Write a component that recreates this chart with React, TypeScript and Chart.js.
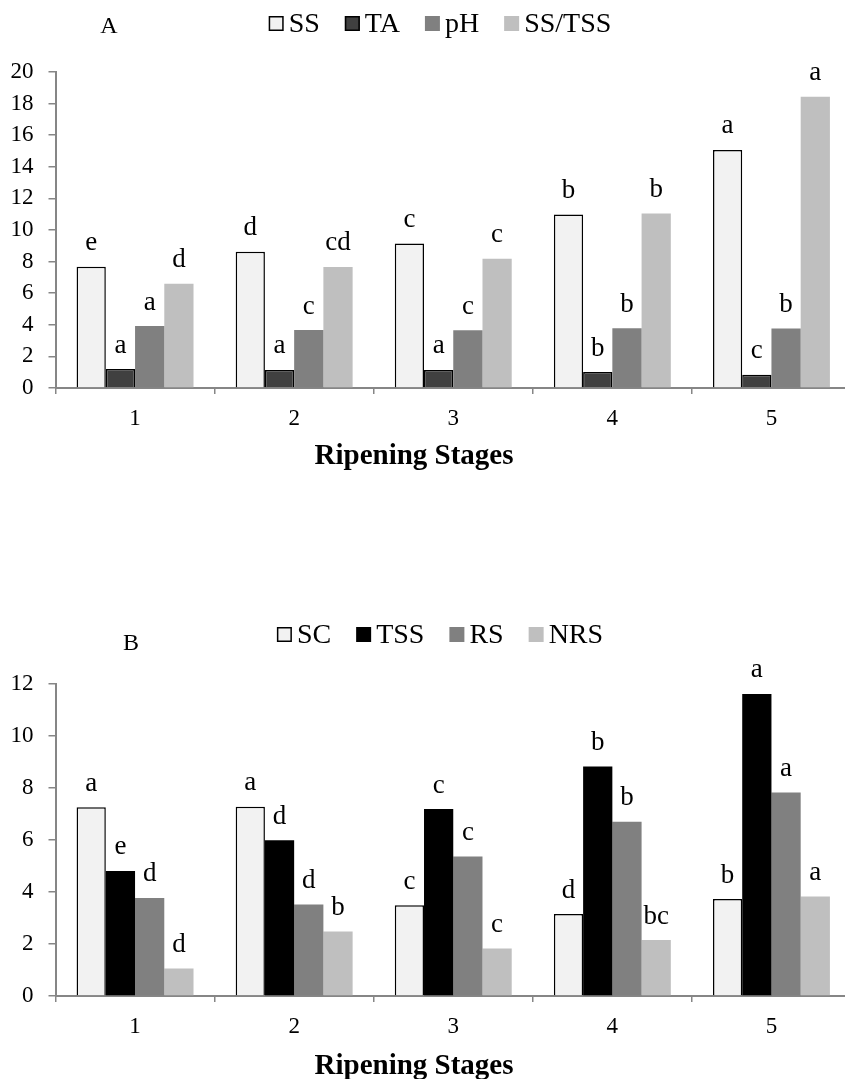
import React, { useEffect, useRef } from "react";
import { Chart, registerables } from "chart.js";

Chart.register(...registerables);

// ---------- DATA ----------
const stages = ["1", "2", "3", "4", "5"];

// Panel A
const seriesA = ["SS", "TA", "pH", "SS/TSS"];
const ssValues = [7.67, 8.62, 9.15, 10.98, 15.07];
const taValues = [1.2, 1.14, 1.14, 1.01, 0.84];
const phValues = [3.92, 3.67, 3.65, 3.78, 3.76];
const ssTssValues = [6.6, 7.66, 8.18, 11.05, 18.44];
const ssLetters = ["e", "d", "c", "b", "a"];
const taLetters = ["a", "a", "a", "b", "c"];
const phLetters = ["a", "c", "c", "b", "b"];
const ssTssLetters = ["d", "cd", "c", "b", "a"];
const yTicksA = { min: 0, max: 20, step: 2 };

// Panel B
const seriesB = ["SC", "TSS", "RS", "NRS"];
const scValues = [7.26, 7.28, 3.49, 3.15, 3.73];
const tssValues = [4.81, 5.99, 7.19, 8.83, 11.62];
const rsValues = [3.77, 3.52, 5.37, 6.7, 7.83];
const nrsValues = [1.06, 2.48, 1.83, 2.15, 3.83];
const scLetters = ["a", "a", "c", "d", "b"];
const tssLetters = ["e", "d", "c", "b", "a"];
const rsLetters = ["d", "d", "c", "b", "a"];
const nrsLetters = ["d", "b", "c", "bc", "a"];
const yTicksB = { min: 0, max: 12, step: 2 };

const xTitle = "Ripening Stages";

// ---------- STYLE ----------
const SERIF = "'Liberation Serif', 'Times New Roman', serif";
const AXIS = "#868686";
const fillsA = ["#f2f2f2", "#404040", "#808080", "#bfbfbf"];
const fillsB = ["#f2f2f2", "#000000", "#808080", "#bfbfbf"];
const bordersA = [1.5, 1.5, 0, 0];
const bordersB = [1.5, 0, 0, 0];

const CANVAS_W = 851;

type PanelCfg = {
  key: string;
  panel: string;
  panelX: number;
  panelY: number;
  legendY: number;
  titleY: number;
  letters: string[][];
};

function overlayPlugin(cfg: PanelCfg) {
  return {
    id: "overlay_" + cfg.key,
    afterDraw(chart: any) {
      const ctx = chart.ctx as CanvasRenderingContext2D;
      ctx.save();
      ctx.fillStyle = "#000";
      ctx.textAlign = "center";
      ctx.textBaseline = "alphabetic";
      // significance letters
      ctx.font = `27px ${SERIF}`;
      chart.data.datasets.forEach((_ds: any, di: number) => {
        const meta = chart.getDatasetMeta(di);
        meta.data.forEach((el: any, i: number) => {
          const l = cfg.letters[di][i];
          if (l) ctx.fillText(l, el.x, el.y - 16.5);
        });
      });
      // panel label
      ctx.font = `24px ${SERIF}`;
      ctx.fillText(cfg.panel, cfg.panelX, cfg.panelY);
      // legend
      ctx.font = `28px ${SERIF}`;
      const box = 15;
      const gap = 5;
      const spacing = 25;
      const items = chart.data.datasets.map((ds: any) => ({
        label: ds.label as string,
        fill: ds.backgroundColor as string,
        bw: ds.borderWidth as number,
        w: ctx.measureText(ds.label).width,
      }));
      let total = 0;
      items.forEach((it: any, i: number) => {
        total += box + gap + it.w + (i < items.length - 1 ? spacing : 0);
      });
      let x = 440 - total / 2;
      ctx.textAlign = "left";
      items.forEach((it: any) => {
        const by = cfg.legendY - box - 1;
        ctx.fillStyle = it.fill;
        ctx.fillRect(x, by, box, box);
        if (it.bw > 0) {
          ctx.strokeStyle = "#000";
          ctx.lineWidth = 1.5;
          ctx.strokeRect(x + 0.75, by + 0.75, box - 1.5, box - 1.5);
        }
        ctx.fillStyle = "#000";
        ctx.fillText(it.label, x + box + gap, cfg.legendY);
        x += box + gap + it.w + spacing;
      });
      // x axis title
      ctx.textAlign = "center";
      ctx.font = `bold 29px ${SERIF}`;
      ctx.fillText(xTitle, 414, cfg.titleY);
      ctx.restore();
    },
  };
}

function buildConfig(
  labels: string[],
  names: string[],
  values: number[][],
  fills: string[],
  borders: number[],
  ticks: { min: number; max: number; step: number },
  top: number,
  xHeight: number,
  labelPad: number,
  cfg: PanelCfg
): any {
  return {
    type: "bar",
    data: {
      labels,
      datasets: names.map((n, i) => ({
        label: n,
        data: values[i],
        backgroundColor: fills[i],
        borderColor: "#000000",
        borderWidth: borders[i],
        borderSkipped: "bottom",
        categoryPercentage: 0.735,
        barPercentage: 1.0,
      })),
    },
    options: {
      responsive: false,
      animation: false,
      devicePixelRatio: 1,
      layout: { padding: { top, left: 0, right: 0, bottom: 0 } },
      plugins: {
        legend: { display: false },
        title: { display: false },
        tooltip: { enabled: false },
      },
      scales: {
        x: {
          type: "category",
          offset: true,
          grid: {
            offset: true,
            drawOnChartArea: false,
            drawTicks: true,
            tickLength: 6,
            color: AXIS,
            lineWidth: 1.5,
          },
          border: { display: true, color: AXIS, width: 2 },
          ticks: {
            color: "#000",
            font: { family: SERIF, size: 23 },
            padding: labelPad,
            maxRotation: 0,
          },
          afterFit: (s: any) => {
            s.height = xHeight;
          },
        },
        y: {
          min: ticks.min,
          max: ticks.max,
          grid: {
            drawOnChartArea: false,
            drawTicks: true,
            tickLength: 7,
            color: AXIS,
            lineWidth: 1.5,
          },
          border: { display: true, color: AXIS, width: 2 },
          ticks: {
            stepSize: ticks.step,
            color: "#000",
            font: { family: SERIF, size: 23 },
            padding: 15,
          },
          afterFit: (s: any) => {
            s.width = 55.5;
          },
        },
      },
    },
    plugins: [overlayPlugin(cfg)],
  };
}

export default function App() {
  const refA = useRef<HTMLCanvasElement>(null);
  const refB = useRef<HTMLCanvasElement>(null);

  useEffect(() => {
    const a = new Chart(
      refA.current as HTMLCanvasElement,
      buildConfig(
        stages,
        seriesA,
        [ssValues, taValues, phValues, ssTssValues],
        fillsA,
        bordersA,
        yTicksA,
        72,
        480 - 388,
        11,
        {
          key: "A",
          panel: "A",
          panelX: 109,
          panelY: 33,
          legendY: 32,
          titleY: 464,
          letters: [ssLetters, taLetters, phLetters, ssTssLetters],
        }
      )
    );
    const b = new Chart(
      refB.current as HTMLCanvasElement,
      buildConfig(
        stages,
        seriesB,
        [scValues, tssValues, rsValues, nrsValues],
        fillsB,
        bordersB,
        yTicksB,
        684 - 540,
        539 - (996 - 540),
        11,
        {
          key: "B",
          panel: "B",
          panelX: 131,
          panelY: 650 - 540,
          legendY: 643 - 540,
          titleY: 1074 - 540,
          letters: [scLetters, tssLetters, rsLetters, nrsLetters],
        }
      )
    );
    return () => {
      a.destroy();
      b.destroy();
    };
  }, []);

  return (
    <div
      style={{
        position: "fixed",
        left: 0,
        top: 0,
        width: 845,
        height: 1079,
        overflow: "hidden",
        background: "#fff",
      }}
    >
      <canvas
        ref={refA}
        width={CANVAS_W}
        height={480}
        style={{ position: "absolute", left: 0, top: 0, display: "block" }}
      />
      <canvas
        ref={refB}
        width={CANVAS_W}
        height={539}
        style={{ position: "absolute", left: 0, top: 540, display: "block" }}
      />
    </div>
  );
}
